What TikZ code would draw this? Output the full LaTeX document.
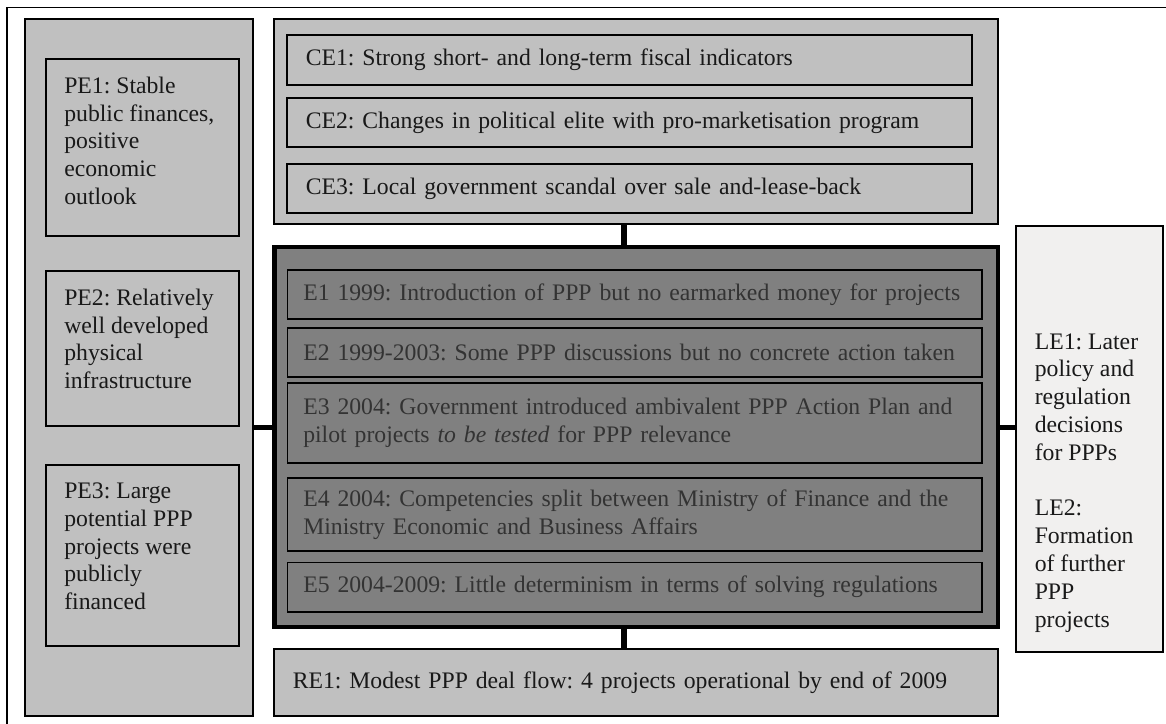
\documentclass[tikz,border=0pt]{standalone}
\usepackage{fontspec}
\setmainfont{Liberation Serif}
\usetikzlibrary{positioning}
\definecolor{panelGray}{RGB}{192,192,192}
\definecolor{eventGray}{RGB}{128,128,128}
\definecolor{laterGray}{RGB}{241,240,239}
\tikzset{%
	% Specifications for style of nodes:
	base/.style = {rectangle, draw=black, line width=1.6pt, inner sep=0pt,
		anchor=north west, text=black!90,
		font=\fontsize{23.7pt}{27.8pt}\selectfont\frenchspacing},
	panel/.style = {base, fill=panelGray},
	peBox/.style = {base, fill=panelGray, inner xsep=18.5pt, inner ysep=18pt},
	ceBox/.style = {base, fill=panelGray, minimum width=685.4pt,
		text width=647.4pt, inner xsep=19pt, align=left},
	eventPanel/.style = {base, fill=eventGray, line width=4.5pt},
	eBox/.style = {base, fill=eventGray, text=black!80, minimum width=694.9pt,
		text width=662.9pt, inner xsep=16pt, align=left},
	reBox/.style = {ceBox, minimum width=724.4pt, text width=686.4pt},
	leBox/.style = {base, fill=laterGray, inner xsep=19pt, inner ysep=20pt},
	conn/.style = {draw=black, line width=5.5pt}
}
\begin{document}
\begin{tikzpicture}[x=1pt, y=1pt]
	\useasboundingbox (0,0) rectangle (1166,723);
	\draw[line width=1.5pt] (1170,715.7) -- (6.9,715.7) -- (6.9,-5);
	% preconditions
	\node (pePanel) [panel, minimum width=228.4pt, minimum height=697.4pt] at (24,705) {};
	\node (peBox1) [peBox] at (45,665) {\parbox[c][141.4pt][t]{156.4pt}{\raggedright PE1: Stable\\ public finances,\\ positive\\ economic\\ outlook}};
	\node (peBox2) [peBox, below=33pt of peBox1] {\parbox[c][119.4pt][t]{156.4pt}{\raggedright PE2: Relatively\\ well developed\\ physical\\ infrastructure}};
	\node (peBox3) [peBox, below=37pt of peBox2] {\parbox[c][145.4pt][t]{156.4pt}{\raggedright PE3: Large\\ potential PPP\\ projects were\\ publicly\\ financed}};
	% contingent events
	\node (cePanel) [panel, minimum width=724.4pt, minimum height=205.4pt] at (273,705) {};
	\node (ceBox1) [ceBox, minimum height=50.4pt] at (286,689) {CE1: Strong short- and long-term fiscal indicators};
	\node (ceBox2) [ceBox, minimum height=49.4pt, below=11pt of ceBox1] {CE2: Changes in political elite with pro-marketisation program};
	\node (ceBox3) [ceBox, minimum height=49.4pt, below=15pt of ceBox2] {CE3: Local government scandal over sale and-lease-back};
	% events
	\node (ePanel) [eventPanel, minimum width=723.5pt, minimum height=379.5pt] at (272,478) {};
	\node (eBox1) [eBox, minimum height=49.4pt] at (286.5,454) {E1 1999: Introduction of PPP but no earmarked money for projects};
	\node (eBox2) [eBox, minimum height=49.4pt, below=7pt of eBox1] {E2 1999-2003: Some PPP discussions but no concrete action taken};
	\node (eBox3) [eBox, minimum height=80.4pt, below=4pt of eBox2] {E3 2004: Government introduced ambivalent PPP Action Plan and\\ pilot projects \textit{to be tested} for PPP relevance};
	\node (eBox4) [eBox, minimum height=72.9pt, below=13.5pt of eBox3] {E4 2004: Competencies split between Ministry of Finance and the\\ Ministry Economic and Business Affairs};
	\node (eBox5) [eBox, minimum height=49.4pt, below=9.5pt of eBox4] {E5 2004-2009: Little determinism in terms of solving regulations};
	% result and later events
	\node (reBox) [reBox, minimum height=67.4pt] at (273,75) {RE1: Modest PPP deal flow: 4 projects operational by end of 2009};
	\node (leBox) [leBox] at (1015,498) {\parbox[c][381.4pt][b]{109.4pt}{\raggedright LE1: Later\\ policy and\\ regulation\\ decisions\\ for PPPs\\[\baselineskip] LE2:\\ Formation\\ of further\\ PPP\\ projects}};
	% links
	\draw[conn] ([xshift=-12pt]cePanel.south) -- ([xshift=-12pt]ePanel.north);
	\draw[conn] ([xshift=-12pt]ePanel.south) -- ([xshift=-12pt]ePanel.south |- reBox.north);
	\draw[conn] ([yshift=9.5pt]ePanel.west -| pePanel.east) -- ([yshift=9.5pt]ePanel.west);
	\draw[conn] ([yshift=9.5pt]ePanel.east) -- ([yshift=9.5pt]ePanel.east -| leBox.west);
\end{tikzpicture}
\end{document}
